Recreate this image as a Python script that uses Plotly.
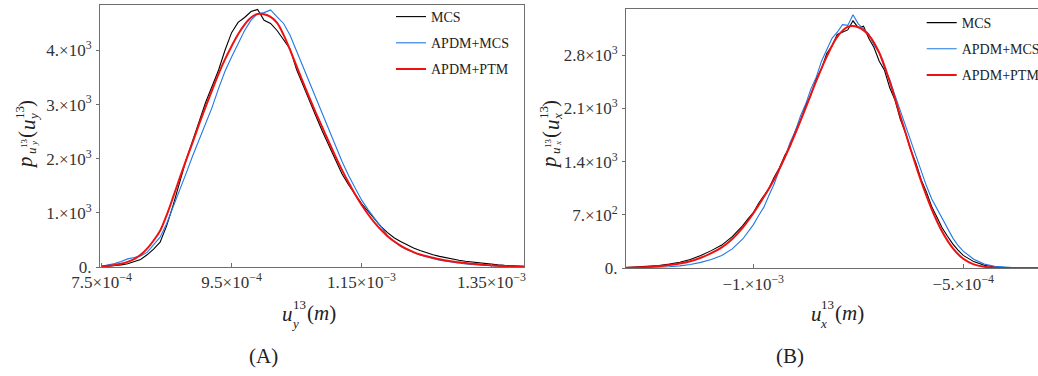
import plotly.graph_objects as go

# ---------------- data (x in units of 1e-4 m) ----------------
a_x = [7.5, 7.6, 7.7, 7.8, 7.9, 8.0, 8.1, 8.2, 8.3, 8.4, 8.5, 8.6, 8.7, 8.8, 8.9, 9.0,
       9.1, 9.2, 9.3, 9.4, 9.5, 9.6, 9.7, 9.8, 9.9, 10.0, 10.1, 10.2, 10.3, 10.4, 10.5,
       10.6, 10.7, 10.8, 10.9, 11.0, 11.1, 11.2, 11.3, 11.4, 11.5, 11.6, 11.7, 11.8,
       11.9, 12.0, 12.1, 12.2, 12.3, 12.4, 12.5, 12.6, 12.7, 12.8, 12.9, 13.0, 13.1,
       13.2, 13.3, 13.4, 13.5, 13.6, 13.7, 13.8, 13.9, 14.0]
a_mcs = [5, 12, 25, 40, 60, 95, 140, 225, 330, 460, 760, 1140, 1550, 1980, 2330, 2680,
         3040, 3340, 3640, 4010, 4330, 4520, 4610, 4720, 4760, 4560, 4500, 4370, 4200, 4030, 3650,
         3350, 3050, 2780, 2500, 2230, 1960, 1720, 1520, 1340, 1170, 1030, 880, 745,
         635, 540, 470, 405, 350, 305, 262, 228, 196, 170, 148, 126, 106,
         90, 75, 61, 49, 39, 30, 23, 17, 12]
a_apdm_mcs = [15, 35, 62, 100, 150, 175, 205, 270, 400, 550, 800, 1100, 1420, 1730, 2050, 2340,
              2650, 2950, 3300, 3620, 3880, 4130, 4370, 4560, 4680, 4700, 4750, 4620, 4500, 4280, 3990,
              3680, 3420, 3120, 2810, 2520, 2230, 1950, 1690, 1450, 1240, 1060, 900, 730,
              580, 470, 385, 320, 265, 222, 188, 155, 125, 105, 85, 70, 55,
              45, 35, 28, 22, 16, 12, 8, 5, 3]
a_apdm_ptm = [12, 22, 38, 60, 95, 145, 225, 340, 490, 670, 955, 1290, 1640, 1975, 2300, 2640,
              2960, 3270, 3570, 3840, 4080, 4300, 4480, 4610, 4675, 4670, 4620, 4510, 4290, 4010, 3710,
              3410, 3120, 2840, 2570, 2300, 2040, 1790, 1560, 1345, 1150, 975, 820, 685,
              570, 475, 395, 330, 275, 230, 200, 170, 142, 118, 100, 86, 72,
              60, 49, 39, 31, 24, 18, 13, 9, 6]

b_x_ptm = [-13.03, -12.75, -12.5, -12.25, -12.0, -11.75, -11.5, -11.25, -11.0, -10.75, -10.5,
           -10.25, -10.0, -9.75, -9.5, -9.25, -9.0, -8.75, -8.5, -8.25, -8.0, -7.75, -7.5,
           -7.25, -7.0, -6.75, -6.5, -6.25, -6.0, -5.75, -5.5, -5.25, -5.0, -4.75, -4.5,
           -4.25, -4.0, -3.75, -3.5, -3.22]
b_apdm_ptm = [6, 12, 18, 27, 42, 62, 92, 138, 198, 275, 385,
              535, 720, 935, 1170, 1455, 1770, 2110, 2460, 2780, 3040, 3170, 3165,
              3060, 2830, 2450, 2000, 1560, 1140, 775, 480, 265, 125, 52, 20,
              8, 3, 1, 0, 0]

b_x_mc = [-13.03, -12.75, -12.5, -12.25, -12.0, -11.75, -11.5, -11.25, -11.0, -10.75, -10.5,
          -10.25, -10.125, -10.0, -9.875, -9.75, -9.625, -9.5, -9.375, -9.25, -9.125, -9.0,
          -8.875, -8.75, -8.625, -8.5, -8.375, -8.25, -8.125, -8.0, -7.875, -7.75, -7.625,
          -7.5, -7.375, -7.25, -7.125, -7.0, -6.875, -6.75, -6.625, -6.5, -6.375, -6.25,
          -6.125, -6.0, -5.875, -5.75, -5.625, -5.5, -5.375, -5.25, -5.125, -5.0, -4.75,
          -4.5, -4.25, -4.0, -3.75, -3.5, -3.22]
b_mcs = [9, 17, 26, 36, 55, 80, 115, 168, 232, 305, 415,
         560, 650, 730, 850, 945, 1050, 1200, 1320, 1480, 1600, 1800,
         1940, 2140, 2280, 2490, 2620, 2820, 2920, 3070, 3100, 3130, 3250,
         3160, 3180, 3020, 2900, 2720, 2600, 2370, 2210, 1960, 1780, 1550,
         1380, 1160, 1000, 810, 670, 530, 420, 320, 240, 170, 88,
         40, 18, 8, 4, 3, 2]
b_apdm_mcs = [3, 6, 9, 14, 21, 32, 50, 78, 115, 168, 255,
              385, 470, 570, 690, 800, 960, 1110, 1300, 1450, 1650, 1800,
              2000, 2160, 2360, 2510, 2720, 2860, 3020, 3100, 3200, 3190, 3330,
              3210, 3150, 3080, 2930, 2830, 2630, 2480, 2270, 2070, 1850, 1650,
              1450, 1250, 1080, 910, 780, 640, 520, 400, 300, 225, 120,
              55, 25, 12, 7, 4, 2]

a_xtick_vals = [7.5e-4, 9.5e-4, 1.15e-3, 1.35e-3]
a_xtick_text = ["7.5×10<sup>−4</sup>", "9.5×10<sup>−4</sup>", "1.15×10<sup>−3</sup>", "1.35×10<sup>−3</sup>"]
a_ytick_vals = [0, 1000, 2000, 3000, 4000]
a_ytick_text = ["0.", "1.×10<sup>3</sup>", "2.×10<sup>3</sup>", "3.×10<sup>3</sup>", "4.×10<sup>3</sup>"]
b_xtick_vals = [-1e-3, -5e-4]
b_xtick_text = ["−1.×10<sup>−3</sup>", "−5.×10<sup>−4</sup>"]
b_ytick_vals = [0, 700, 1400, 2100, 2800]
b_ytick_text = ["0.", "7.×10<sup>2</sup>", "1.4×10<sup>3</sup>", "2.1×10<sup>3</sup>", "2.8×10<sup>3</sup>"]

names = ["MCS", "APDM+MCS", "APDM+PTM"]
colors = ["#000000", "#1f78e6", "#ee1111"]
widths = [1.1, 1.1, 2.0]

SCALE = 1e-4
W, H = 1038, 376
FONT = "Liberation Serif"
TXT = "#222222"


def sx(v):
    return [t * SCALE for t in v]


fig = go.Figure()

a_series = [(a_x, a_mcs), (a_x, a_apdm_mcs), (a_x, a_apdm_ptm)]
b_series = [(b_x_mc, b_mcs), (b_x_mc, b_apdm_mcs), (b_x_ptm, b_apdm_ptm)]

for i, (xs, ys) in enumerate(a_series):
    fig.add_trace(go.Scatter(x=sx(xs), y=ys, mode="lines", name=names[i],
                             line=dict(color=colors[i], width=widths[i],
                                       shape="spline" if i == 2 else "linear"),
                             xaxis="x", yaxis="y", legend="legend",
                             legendgroup="a%d" % i))
for i, (xs, ys) in enumerate(b_series):
    fig.add_trace(go.Scatter(x=sx(xs), y=ys, mode="lines", name=names[i],
                             line=dict(color=colors[i], width=widths[i],
                                       shape="spline" if i == 2 else "linear"),
                             xaxis="x2", yaxis="y2", legend="legend2",
                             legendgroup="b%d" % i))


def fx(p):
    return p / W


def fy(p):
    return 1 - p / H


axis_common = dict(showline=True, linecolor="#6e6e6e", linewidth=1, showgrid=False,
                   zeroline=False, tickmode="array", tickcolor="#6e6e6e",
                   tickfont=dict(family=FONT, size=17, color="#333333"))

fig.update_layout(
    width=W, height=H, margin=dict(l=0, r=0, t=0, b=0, autoexpand=False),
    paper_bgcolor="white", plot_bgcolor="white",
    font=dict(family=FONT, color=TXT),
    xaxis=dict(domain=[fx(100), fx(524)], range=[7.475e-4, 1.4e-3], anchor="y",
               tickvals=a_xtick_vals, ticktext=a_xtick_text, ticks="inside", ticklen=4,
               mirror=True, **axis_common),
    yaxis=dict(domain=[fy(267), fy(5)], range=[0, 4841], anchor="x",
               tickvals=a_ytick_vals, ticktext=a_ytick_text, ticks="outside", ticklen=3,
               ticklabelstandoff=1, mirror=True, **axis_common),
    xaxis2=dict(domain=[fx(626), 1.0], range=[-1.303e-3, -3.22e-4], anchor="y2",
                tickvals=b_xtick_vals, ticktext=b_xtick_text, ticks="inside", ticklen=4,
                mirror=True, **axis_common),
    yaxis2=dict(domain=[fy(268.3), fy(9)], range=[0, 3405], anchor="x2",
                tickvals=b_ytick_vals, ticktext=b_ytick_text, ticks="outside", ticklen=3,
                ticklabelstandoff=1, mirror=False, **axis_common),
    legend=dict(x=fx(391), y=fy(1), xanchor="left", yanchor="top", bgcolor="rgba(0,0,0,0)",
                font=dict(family=FONT, size=14, color=TXT), tracegroupgap=5),
    legend2=dict(x=fx(921.7), y=fy(7), xanchor="left", yanchor="top", bgcolor="rgba(0,0,0,0)",
                 font=dict(family=FONT, size=14, color=TXT), tracegroupgap=5),
    showlegend=True,
)

ann = []


def piece(text, px, py, size, angle=0):
    ann.append(dict(text=text, x=fx(px), y=fy(py), xref="paper", yref="paper",
                    xanchor="center", yanchor="middle", showarrow=False, textangle=angle,
                    font=dict(family=FONT, size=size, color=TXT)))


# x-axis titles: u_y^13(m) and u_x^13(m), built from stacked pieces
for x0, comp in ((288, "y"), (816, "x")):
    piece("<i>u</i>", x0, 314, 21)
    piece("13", x0 + 11, 304, 13)
    piece("<i>%s</i>" % comp, x0 + 7, 323, 13)
    piece("(<i>m</i>)", x0 + 33, 313, 21)

# y-axis titles: p_{u_y^13}(u_y^13) and p_{u_x^13}(u_x^13), rotated pieces
for x0, comp in ((25, "y"), (549, "x")):
    piece("<i>p</i>", x0, 163, 21, -90)
    piece("<i>u</i>", x0 + 6, 151, 13, -90)
    piece("13", x0 - 1, 143, 9, -90)
    piece("<i>%s</i>" % comp, x0 + 9, 144, 9, -90)
    piece("(", x0 + 1, 135, 21, -90)
    piece("<i>u</i>", x0 + 3, 125, 21, -90)
    piece("13", x0 - 5, 113, 13, -90)
    piece("<i>%s</i>" % comp, x0 + 8, 117, 13, -90)
    piece(")", x0 + 1, 104, 21, -90)

piece("(A)", 263, 356, 21)
piece("(B)", 790, 356, 21)

fig.update_layout(annotations=ann)

fig.write_html("out.html", config={"displayModeBar": False},
               post_script="document.body.style.margin='0';document.body.style.padding='0';"
                           "document.body.style.overflow='hidden';")
